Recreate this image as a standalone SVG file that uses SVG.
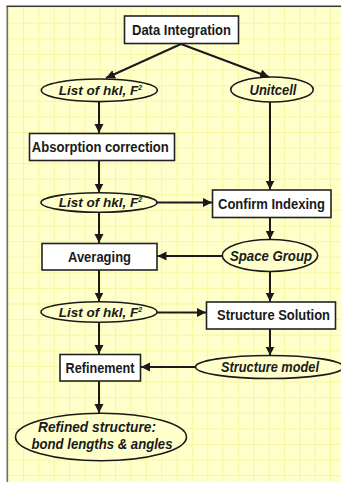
<svg xmlns="http://www.w3.org/2000/svg" width="341" height="482" viewBox="0 0 341 482">
  <style>
    .box { fill: #ffffff; stroke: #222222; stroke-width: 1.6; }
    .ell { fill: #ffffcc; stroke: #1a1a1a; stroke-width: 1.6; }
    .lbl { font-family: "Liberation Sans", Arial, sans-serif; font-size: 14px; font-weight: bold; fill: #1a1a1a; text-anchor: middle; }
    .it { font-style: italic; }
    .hkl { font-size: 13.5px; }
    .sup { font-size: 7px; }
    .con line { stroke: #1a1a1a; stroke-width: 2; marker-end: url(#arr); }
  </style>
  <defs>
    <pattern id="grid" patternUnits="userSpaceOnUse" x="7.65" y="7.1" width="15.35" height="15.6">
      <rect width="15.35" height="15.6" fill="#ffffcc"/>
      <path d="M0.5,0 V15.6 M0,0.5 H15.35" stroke="#f6f69e" stroke-width="1" fill="none"/>
    </pattern>
    <marker id="arr" markerUnits="userSpaceOnUse" markerWidth="10" markerHeight="10" refX="9" refY="4.5" orient="auto">
      <path d="M0,0 L9,4.5 L0,9 z" fill="#1a1a1a"/>
    </marker>
  </defs>

  <rect x="0" y="0" width="341" height="482" fill="#ffffff"/>
  <rect x="8" y="7" width="333" height="475" fill="url(#grid)"/>
  <line x1="7.3" y1="6" x2="7.3" y2="482" stroke="#6e6e6e" stroke-width="1.6"/>
  <line x1="6.5" y1="6.3" x2="341" y2="6.3" stroke="#3a3a3a" stroke-width="1.4"/>

  <g id="connectors" class="con">
    <line x1="181" y1="44" x2="106" y2="78"/>
    <line x1="181" y1="44" x2="269" y2="77"/>
    <line x1="99" y1="102" x2="99" y2="133"/>
    <line x1="270" y1="102" x2="270" y2="189.5"/>
    <line x1="99" y1="160.5" x2="99" y2="192.5"/>
    <line x1="157" y1="202.5" x2="212" y2="202.5"/>
    <line x1="99" y1="212.5" x2="99" y2="243"/>
    <line x1="270" y1="218" x2="270" y2="239.5"/>
    <line x1="222" y1="256" x2="157.5" y2="256"/>
    <line x1="99" y1="270" x2="99" y2="301.5"/>
    <line x1="270" y1="272" x2="270" y2="301.5"/>
    <line x1="157" y1="312.5" x2="206" y2="312.5"/>
    <line x1="99" y1="322" x2="99" y2="354"/>
    <line x1="270" y1="329" x2="270" y2="355.5"/>
    <line x1="196" y1="367" x2="141" y2="367"/>
    <line x1="99" y1="381" x2="99" y2="413"/>
  </g>

  <g id="data-integration">
    <rect class="box" x="124.5" y="16" width="114" height="27.5"/>
    <text class="lbl" x="181.5" y="34.5" textLength="99" lengthAdjust="spacingAndGlyphs">Data Integration</text>
  </g>
  <g id="list1">
    <ellipse class="ell" cx="99.3" cy="90.3" rx="58" ry="11.3"/>
    <text class="lbl it hkl" x="100.5" y="95">List of hkl, F<tspan class="sup" dy="-5">2</tspan></text>
  </g>
  <g id="unitcell">
    <ellipse class="ell" cx="272" cy="89.5" rx="41.3" ry="12.5"/>
    <text class="lbl it" x="273" y="94.5" textLength="47" lengthAdjust="spacingAndGlyphs">Unitcell</text>
  </g>
  <g id="absorption">
    <rect class="box" x="29.5" y="133.5" width="145" height="27"/>
    <text class="lbl" x="100.3" y="151.7" textLength="137" lengthAdjust="spacingAndGlyphs">Absorption correction</text>
  </g>
  <g id="list2">
    <ellipse class="ell" cx="99" cy="202.5" rx="58" ry="9.7" stroke-width="2.2"/>
    <text class="lbl it hkl" x="100.5" y="207.3">List of hkl, F<tspan class="sup" dy="-5">2</tspan></text>
  </g>
  <g id="confirm-indexing">
    <rect class="box" x="212.5" y="190" width="118.5" height="27.5"/>
    <text class="lbl" x="271.5" y="208.7" textLength="107" lengthAdjust="spacingAndGlyphs">Confirm Indexing</text>
  </g>
  <g id="space-group">
    <ellipse class="ell" cx="270" cy="255.5" rx="47.7" ry="16"/>
    <text class="lbl it" x="271" y="260.5" textLength="82" lengthAdjust="spacingAndGlyphs">Space Group</text>
  </g>
  <g id="averaging">
    <rect class="box" x="42" y="243.5" width="115" height="26.5"/>
    <text class="lbl" x="99.5" y="261.6" textLength="63" lengthAdjust="spacingAndGlyphs">Averaging</text>
  </g>
  <g id="list3">
    <ellipse class="ell" cx="99" cy="312" rx="58" ry="10.2"/>
    <text class="lbl it hkl" x="100.5" y="316.8">List of hkl, F<tspan class="sup" dy="-5">2</tspan></text>
  </g>
  <g id="structure-solution">
    <rect class="box" x="206.5" y="302" width="129" height="27"/>
    <text class="lbl" x="273.5" y="320.2" textLength="113" lengthAdjust="spacingAndGlyphs">Structure Solution</text>
  </g>
  <g id="refinement">
    <rect class="box" x="60" y="354.5" width="80.5" height="26.5"/>
    <text class="lbl" x="100" y="372.6" textLength="69" lengthAdjust="spacingAndGlyphs">Refinement</text>
  </g>
  <g id="structure-model">
    <ellipse class="ell" cx="269.5" cy="367" rx="74" ry="11.5"/>
    <text class="lbl it" x="270" y="372" textLength="98" lengthAdjust="spacingAndGlyphs">Structure model</text>
  </g>
  <g id="refined-structure">
    <ellipse class="ell" cx="101" cy="437" rx="85.5" ry="23.7"/>
    <text class="lbl it" x="97" y="432" textLength="118" lengthAdjust="spacingAndGlyphs">Refined  structure:</text>
    <text class="lbl it" x="102" y="448.5" textLength="141" lengthAdjust="spacingAndGlyphs">bond lengths &amp; angles</text>
  </g>
</svg>
